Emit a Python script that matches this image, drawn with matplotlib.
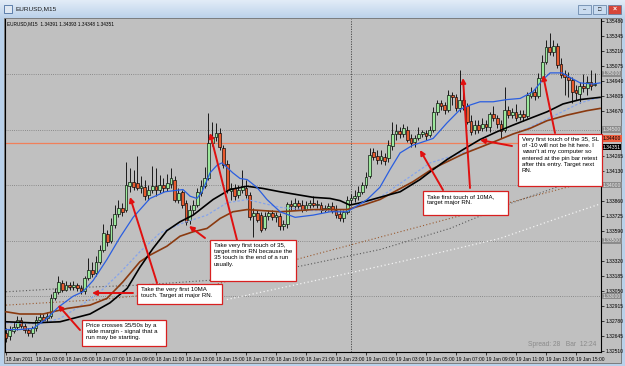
import numpy as np
import matplotlib.pyplot as plt
from matplotlib.patches import Rectangle
from matplotlib.colors import LinearSegmentedColormap

plt.rcParams['font.family'] = ['Liberation Sans', 'DejaVu Sans']

# EURUSD M15, one bar per 15 min starting 18 Jan 2011 01:00
opens = [1.3267, 1.3264, 1.3269, 1.3272, 1.3279, 1.3273, 1.3270, 1.3267, 1.3271, 1.3279,
         1.3281, 1.3280, 1.3282, 1.3298, 1.3304, 1.3312, 1.3306, 1.3310, 1.3308, 1.3310,
         1.3307, 1.3305, 1.3316, 1.3324, 1.3321, 1.3331, 1.3342, 1.3356, 1.3350, 1.3364,
         1.3374, 1.3379, 1.3378, 1.3399, 1.3403, 1.3402, 1.3397, 1.3398, 1.3391, 1.3396,
         1.3399, 1.3396, 1.3400, 1.3397, 1.3401, 1.3405, 1.3387, 1.3394, 1.3384, 1.3369,
         1.3378, 1.3382, 1.3393, 1.3399, 1.3406, 1.3438, 1.3443, 1.3447, 1.3433, 1.3419,
         1.3395, 1.3397, 1.3391, 1.3396, 1.3397, 1.3391, 1.3372, 1.3375, 1.3373, 1.3361,
         1.3372, 1.3375, 1.3371, 1.3372, 1.3363, 1.3365, 1.3383, 1.3381, 1.3384, 1.3382,
         1.3378, 1.3382, 1.3384, 1.3382, 1.3382, 1.3378, 1.3379, 1.3381, 1.3378, 1.3374,
         1.3370, 1.3376, 1.3387, 1.3388, 1.3390, 1.3394, 1.3400, 1.3408, 1.3430, 1.3426,
         1.3423, 1.3425, 1.3424, 1.3435, 1.3446, 1.3449, 1.3446, 1.3450, 1.3442, 1.3439,
         1.3442, 1.3446, 1.3447, 1.3445, 1.3450, 1.3466, 1.3474, 1.3472, 1.3468, 1.3481,
         1.3479, 1.3469, 1.3477, 1.3471, 1.3458, 1.3450, 1.3454, 1.3451, 1.3455, 1.3452,
         1.3464, 1.3460, 1.3455, 1.3450, 1.3468, 1.3463, 1.3466, 1.3461, 1.3464, 1.3462,
         1.3480, 1.3484, 1.3480, 1.3496, 1.3511, 1.3524, 1.3520, 1.3525, 1.3509, 1.3500,
         1.3497, 1.3495, 1.3486, 1.3482, 1.3489, 1.3487, 1.3493, 1.3490]
highs = [1.3271, 1.3273, 1.3277, 1.3282, 1.3281, 1.3277, 1.3271, 1.3273, 1.3282, 1.3285,
         1.3284, 1.3286, 1.3302, 1.3307, 1.3318, 1.3315, 1.3314, 1.3313, 1.3314, 1.3312,
         1.3310, 1.3318, 1.3334, 1.3331, 1.3336, 1.3346, 1.3365, 1.3360, 1.3370, 1.3382,
         1.3387, 1.3384, 1.3421, 1.3415, 1.3414, 1.3426, 1.3408, 1.3405, 1.3400, 1.3417,
         1.3415, 1.3409, 1.3406, 1.3410, 1.3415, 1.3408, 1.3397, 1.3396, 1.3387, 1.3382,
         1.3387, 1.3397, 1.3405, 1.3416, 1.3465, 1.3457, 1.3456, 1.3451, 1.3436, 1.3423,
         1.3402, 1.3401, 1.3400, 1.3414, 1.3405, 1.3394, 1.3379, 1.3378, 1.3376, 1.3376,
         1.3378, 1.3378, 1.3376, 1.3375, 1.3369, 1.3385, 1.3387, 1.3388, 1.3387, 1.3387,
         1.3386, 1.3387, 1.3390, 1.3387, 1.3385, 1.3382, 1.3384, 1.3385, 1.3382, 1.3378,
         1.3378, 1.3390, 1.3392, 1.3396, 1.3399, 1.3403, 1.3412, 1.3433, 1.3433, 1.3432,
         1.3432, 1.3429, 1.3441, 1.3457, 1.3455, 1.3452, 1.3455, 1.3453, 1.3446, 1.3445,
         1.3452, 1.3450, 1.3450, 1.3453, 1.3470, 1.3477, 1.3477, 1.3475, 1.3486, 1.3484,
         1.3482, 1.3504, 1.3487, 1.3474, 1.3463, 1.3459, 1.3459, 1.3460, 1.3459, 1.3466,
         1.3471, 1.3463, 1.3459, 1.3488, 1.3471, 1.3469, 1.3473, 1.3468, 1.3468, 1.3484,
         1.3488, 1.3487, 1.3501, 1.3517, 1.3531, 1.3537, 1.3531, 1.3528, 1.3514, 1.3504,
         1.3502, 1.3497, 1.3490, 1.3493, 1.3500, 1.3498, 1.3504, 1.3501]
lows = [1.3259, 1.3261, 1.3267, 1.3270, 1.3271, 1.3267, 1.3264, 1.3263, 1.3269, 1.3277,
        1.3278, 1.3277, 1.3280, 1.3297, 1.3302, 1.3304, 1.3305, 1.3306, 1.3306, 1.3305,
        1.3302, 1.3302, 1.3315, 1.3317, 1.3318, 1.3329, 1.3340, 1.3345, 1.3348, 1.3361,
        1.3371, 1.3372, 1.3376, 1.3394, 1.3396, 1.3396, 1.3393, 1.3387, 1.3387, 1.3393,
        1.3390, 1.3393, 1.3394, 1.3395, 1.3397, 1.3385, 1.3384, 1.3379, 1.3364, 1.3365,
        1.3374, 1.3380, 1.3390, 1.3397, 1.3405, 1.3435, 1.3440, 1.3432, 1.3415, 1.3393,
        1.3387, 1.3387, 1.3388, 1.3393, 1.3388, 1.3369, 1.3353, 1.3367, 1.3358, 1.3360,
        1.3369, 1.3369, 1.3367, 1.3360, 1.3360, 1.3361, 1.3378, 1.3378, 1.3378, 1.3376,
        1.3377, 1.3379, 1.3380, 1.3379, 1.3375, 1.3376, 1.3377, 1.3375, 1.3370, 1.3368,
        1.3367, 1.3374, 1.3383, 1.3385, 1.3387, 1.3392, 1.3397, 1.3406, 1.3423, 1.3419,
        1.3419, 1.3418, 1.3421, 1.3432, 1.3441, 1.3442, 1.3443, 1.3439, 1.3434, 1.3434,
        1.3441, 1.3443, 1.3441, 1.3443, 1.3448, 1.3463, 1.3468, 1.3464, 1.3466, 1.3472,
        1.3467, 1.3466, 1.3468, 1.3455, 1.3445, 1.3446, 1.3447, 1.3449, 1.3449, 1.3448,
        1.3458, 1.3451, 1.3442, 1.3448, 1.3460, 1.3460, 1.3458, 1.3459, 1.3458, 1.3460,
        1.3478, 1.3477, 1.3478, 1.3495, 1.3509, 1.3517, 1.3516, 1.3505, 1.3496, 1.3481,
        1.3479, 1.3474, 1.3477, 1.3474, 1.3484, 1.3481, 1.3486, 1.3489]
closes = [1.3262, 1.3270, 1.3272, 1.3279, 1.3273, 1.3270, 1.3267, 1.3271, 1.3279, 1.3281,
          1.3279, 1.3282, 1.3298, 1.3304, 1.3313, 1.3306, 1.3310, 1.3308, 1.3310, 1.3307,
          1.3305, 1.3316, 1.3324, 1.3320, 1.3331, 1.3342, 1.3357, 1.3349, 1.3364, 1.3374,
          1.3379, 1.3376, 1.3400, 1.3403, 1.3398, 1.3397, 1.3399, 1.3390, 1.3396, 1.3399,
          1.3396, 1.3400, 1.3397, 1.3402, 1.3406, 1.3387, 1.3393, 1.3382, 1.3367, 1.3378,
          1.3382, 1.3394, 1.3399, 1.3406, 1.3438, 1.3443, 1.3447, 1.3434, 1.3418, 1.3396,
          1.3397, 1.3390, 1.3396, 1.3399, 1.3391, 1.3371, 1.3375, 1.3369, 1.3360, 1.3372,
          1.3375, 1.3371, 1.3373, 1.3363, 1.3365, 1.3383, 1.3381, 1.3384, 1.3381, 1.3378,
          1.3382, 1.3384, 1.3382, 1.3383, 1.3378, 1.3379, 1.3381, 1.3377, 1.3373, 1.3370,
          1.3376, 1.3387, 1.3388, 1.3390, 1.3394, 1.3400, 1.3407, 1.3427, 1.3425, 1.3423,
          1.3426, 1.3422, 1.3436, 1.3446, 1.3449, 1.3446, 1.3451, 1.3441, 1.3438, 1.3442,
          1.3446, 1.3448, 1.3444, 1.3450, 1.3466, 1.3474, 1.3471, 1.3468, 1.3481, 1.3479,
          1.3469, 1.3477, 1.3472, 1.3457, 1.3448, 1.3454, 1.3450, 1.3455, 1.3452, 1.3464,
          1.3460, 1.3455, 1.3449, 1.3468, 1.3463, 1.3466, 1.3460, 1.3464, 1.3461, 1.3481,
          1.3484, 1.3480, 1.3496, 1.3511, 1.3524, 1.3520, 1.3525, 1.3508, 1.3499, 1.3497,
          1.3495, 1.3484, 1.3483, 1.3489, 1.3487, 1.3493, 1.3489, 1.3491]

# moving averages (bar position, price)
ma10_x = [0, 3.7, 7.2, 10.9, 13.9, 17.9, 20.5, 23.2, 26.9, 30.4, 33.9, 38.4, 42.4, 47.2, 49.1,
          50.9, 52.3, 54.4, 56.3, 57.6, 58.9, 60.5, 62.4, 64.3, 66.9, 69.6, 73.1, 77.1, 81.9,
          86.4, 90.9, 92.5, 96.3, 99.7, 102.4, 105.1, 108.5, 110.4, 113.9, 117.6, 121.1,
          123.7, 126.4, 129.9, 133.6, 137.1, 140.5, 143.2, 145.1, 148.3, 150.9, 153.1, 156.5, 158.4]
ma10_y = [1.3270, 1.3270, 1.3271, 1.3280, 1.3290, 1.3300, 1.3304, 1.3314, 1.3333, 1.3353,
          1.3371, 1.3388, 1.3394, 1.3396, 1.3390, 1.3388, 1.3394, 1.3411, 1.3418, 1.3420,
          1.3416, 1.3411, 1.3406, 1.3405, 1.3398, 1.3387, 1.3376, 1.3371, 1.3373, 1.3376,
          1.3376, 1.3379, 1.3387, 1.3398, 1.3414, 1.3429, 1.3436, 1.3438, 1.3442, 1.3456,
          1.3468, 1.3472, 1.3475, 1.3475, 1.3477, 1.3478, 1.3484, 1.3495, 1.3501, 1.3501,
          1.3496, 1.3492, 1.3491, 1.3492]
ma35_x = [0, 7.2, 14.4, 22.4, 27.7, 32.3, 35.7, 39.2, 42.9, 46.4, 49.9, 55.2, 59.7, 64.3, 68.5,
          73.1, 81.9, 86.4, 89.1, 91.7, 94.4, 99.7, 105.1, 110.4, 113.9, 117.6, 121.9, 126.4,
          130.9, 135.2, 139.7, 144.3, 148.5, 153.1, 158.4]
ma35_y = [1.3277, 1.3276, 1.3277, 1.3284, 1.3294, 1.3307, 1.3326, 1.3343, 1.3359, 1.3367,
          1.3373, 1.3387, 1.3396, 1.3399, 1.3397, 1.3394, 1.3389, 1.3388, 1.3386, 1.3382,
          1.3384, 1.3389, 1.3394, 1.3405, 1.3414, 1.3423, 1.3432, 1.3441, 1.3448, 1.3454,
          1.3460, 1.3466, 1.3473, 1.3477, 1.3479]
ma50_x = [0, 3.7, 9.9, 16.3, 22.4, 26.9, 31.2, 35.7, 38.4, 42.9, 46.4, 49.9, 53.6, 57.1, 60.5,
          64.3, 73.1, 81.9, 90.9, 95.2, 99.7, 108.5, 113.9, 121.9, 126.4, 130.9, 135.2, 139.7,
          144.3, 149.6, 154.9, 158.4]
ma50_y = [1.3286, 1.3284, 1.3284, 1.3289, 1.3292, 1.3298, 1.3313, 1.3331, 1.3337, 1.3345,
          1.3354, 1.3358, 1.3361, 1.3370, 1.3376, 1.3378, 1.3376, 1.3378, 1.3378, 1.3382,
          1.3387, 1.3403, 1.3415, 1.3428, 1.3434, 1.3440, 1.3446, 1.3451, 1.3458, 1.3463,
          1.3467, 1.3469]
ma20_x = [0, 9.1, 14.4, 19.7, 25.1, 30.4, 35.7, 41.1, 47.2, 53.6, 58.9, 64.3, 73.1, 81.9, 90.9,
          99.7, 113.1, 126.4, 139.7, 147.7, 153.1, 158.4]
ma20_y = [1.3276, 1.3275, 1.3280, 1.3291, 1.3304, 1.3321, 1.3340, 1.3357, 1.3366, 1.3373,
          1.3384, 1.3387, 1.3380, 1.3377, 1.3378, 1.3389, 1.3420, 1.3434, 1.3452, 1.3465,
          1.3474, 1.3479]
ma100_x = [0, 20.5, 35.7, 57.1, 78.4, 99.7, 118.4, 134.9, 145.9, 158.4]
ma100_y = [1.3304, 1.3308, 1.3310, 1.3315, 1.3327, 1.3342, 1.3361, 1.3384, 1.3397, 1.3412]
ma150_x = [0, 25.1, 51.7, 78.4, 105.1, 131.7, 158.4]
ma150_y = [1.3292, 1.3297, 1.3306, 1.3334, 1.3358, 1.3382, 1.3406]
ma200_x = [58.9, 83.7, 105.1, 131.7, 149.6, 158.4]
ma200_y = [1.3297, 1.3315, 1.3331, 1.3352, 1.3373, 1.3383]

price_ticks = [1.35480, 1.35345, 1.35210, 1.35075, 1.34940, 1.34805, 1.34670, 1.34265,
               1.34130, 1.33860, 1.33725, 1.33590, 1.33320, 1.33185, 1.33050, 1.32915,
               1.32780, 1.32645, 1.32510]
round_levels = [1.35000, 1.34500, 1.34000, 1.33500, 1.33000]
hline_level = 1.34375
bid = 1.34351

time_pos = [0, 8, 16, 24, 32, 40, 48, 56, 64, 72, 80, 88, 96, 104, 112, 120, 128, 136, 144, 152]
time_labels = ['18 Jan 2011', '18 Jan 03:00', '18 Jan 05:00', '18 Jan 07:00', '18 Jan 09:00',
               '18 Jan 11:00', '18 Jan 13:00', '18 Jan 15:00', '18 Jan 17:00', '18 Jan 19:00',
               '18 Jan 21:00', '18 Jan 23:00', '19 Jan 01:00', '19 Jan 03:00', '19 Jan 05:00',
               '19 Jan 07:00', '19 Jan 09:00', '19 Jan 11:00', '19 Jan 13:00', '19 Jan 15:00']
day_break = 92

notes = [
    'Price crosses 35/50s by a\nwide margin - signal that a\nrun may be starting.',
    'Take the very first 10MA\ntouch. Target at major RN.',
    'Take very first touch of 35,\ntarget minor RN because the\n35 touch is the end of a run\nusually.',
    'Take first touch of 10MA,\ntarget major RN.',
    'Very first touch of the 35, SL\nof -10 will not be hit here. I\nwasn\'t at my computer so\nentered at the pin bar retest\nafter this entry. Target next\nRN.',
]

W, H = 625, 366
fig = plt.figure(figsize=(W / 100, H / 100), dpi=100)
fig.patch.set_facecolor('#b9d1ea')


def fpx(x, y):
    return x / W, 1 - y / H


def d(x, y):
    # screen pixel -> chart coordinates (bar, price)
    return (x - 6) / 3.75, 1.35666 - 0.00009 * y


# title bar
tb = fig.add_axes([0, 1 - 18 / H, 1, 18 / H])
tb.imshow(np.linspace(0, 1, 30).reshape(-1, 1), aspect='auto', extent=[0, 1, 0, 1],
          cmap=LinearSegmentedColormap.from_list('tb', ['#e2ecf7', '#bcd2ea']))
tb.axis('off')
fig.add_artist(Rectangle(fpx(4, 13), 8 / W, 8 / H, transform=fig.transFigure,
                         facecolor='#dfe8f2', edgecolor='#4a6fa0', lw=0.6))
fig.text(*fpx(16, 9), 'EURUSD,M15', fontsize=4.6, va='center', color='#1a1a1a')
for bx, fc in [(578, '#c9dbef'), (593, '#c9dbef'), (608, '#d6463a')]:
    fig.add_artist(Rectangle(fpx(bx, 14), 13 / W, 9 / H, transform=fig.transFigure,
                             facecolor=fc, edgecolor='#5a7aa0', lw=0.5))
fig.text(*fpx(584.5, 9.5), '–', fontsize=4, ha='center', va='center')
fig.text(*fpx(599.5, 9.5), '□', fontsize=4, ha='center', va='center')
fig.text(*fpx(614.5, 9.5), '×', fontsize=5, ha='center', va='center', color='white',
         fontweight='bold')

# chart panel
fig.add_artist(Rectangle(fpx(4, 363), 617 / W, 345 / H, transform=fig.transFigure,
                         facecolor='#c0c0c0', edgecolor='#707070', lw=0.6, zorder=0))

ax = fig.add_axes([5 / W, 1 - 352 / H, 596 / W, 333 / H])
ax.set_facecolor('#c0c0c0')
x0, y_top = d(5, 19)
x1, y_bot = d(601, 352)
ax.set_xlim(x0, x1)
ax.set_ylim(y_bot, y_top)
for s in ['left', 'bottom', 'right']:
    ax.spines[s].set_color('black')
    ax.spines[s].set_linewidth(0.8)
ax.spines['top'].set_visible(False)

# round-number levels, separators
for lv in round_levels:
    ax.axhline(lv, color='#7a7a7a', lw=0.6, ls=(0, (1, 1.6)), zorder=1)
ax.axhline(hline_level, color='#f0805a', lw=0.9, zorder=1)
ax.axvline(day_break, color='#404040', lw=0.6, ls=(0, (1.5, 1.5)), zorder=1)

# long averages
ax.plot(ma100_x, ma100_y, color='#5a5a5a', lw=0.8, ls=(0, (1, 2)), zorder=2)
ax.plot(ma150_x, ma150_y, color='#9a5a30', lw=0.8, ls=(0, (1, 2)), zorder=2)
ax.plot(ma200_x, ma200_y, color='#f4f4f4', lw=0.9, ls=(0, (1, 2)), zorder=2)

# candles
o, h, l, c = map(np.array, (opens, highs, lows, closes))
idx = np.arange(len(o))
up = c >= o
ax.vlines(idx, l, h, color='black', lw=0.6, zorder=3)
ax.bar(idx[up], np.maximum(c[up] - o[up], 0.00002), bottom=o[up], width=0.7,
       color='#9be89b', edgecolor='black', lw=0.45, zorder=4)
ax.bar(idx[~up], o[~up] - c[~up], bottom=c[~up], width=0.7,
       color='#e85a2e', edgecolor='black', lw=0.45, zorder=4)

# moving averages
ax.plot(ma20_x, ma20_y, color='#86a4ec', lw=0.9, ls=(0, (2, 1.5)), zorder=5)
ax.plot(ma50_x, ma50_y, color='#8a3a10', lw=1.2, zorder=5)
ax.plot(ma35_x, ma35_y, color='black', lw=1.2, zorder=5)
ax.plot(ma10_x, ma10_y, color='#2a5ee0', lw=0.9, zorder=5)

# axes ticks
ax.yaxis.tick_right()
ax.set_yticks(price_ticks)
ax.set_yticklabels(['%.5f' % p for p in price_ticks])
ax.tick_params(axis='y', labelsize=3.6, length=2, width=0.5, pad=1, colors='black')
ax.set_xticks(time_pos)
ax.set_xticklabels(time_labels)
ax.tick_params(axis='x', labelsize=3.5, length=2, width=0.5, pad=1.5)
for t in ax.get_xticklabels():
    t.set_ha('left')

# price axis boxes
ytr = ax.get_yaxis_transform()
for lv in round_levels:
    ax.text(1.003, lv, '%.5f' % lv, transform=ytr, fontsize=3.6, va='center', ha='left',
            color='#e8e8e8', clip_on=False,
            bbox=dict(boxstyle='square,pad=0.12', fc='#8c8c8c', ec='none'))
ax.text(1.003, 1.34420, '%.5f' % 1.34400, transform=ytr, fontsize=3.6,
        va='center', ha='left', color='black', clip_on=False,
        bbox=dict(boxstyle='square,pad=0.12', fc='#f06040', ec='none'))
ax.text(1.003, 1.34340, '%.5f' % bid, transform=ytr, fontsize=3.6, va='center',
        ha='left', color='white', clip_on=False,
        bbox=dict(boxstyle='square,pad=0.12', fc='black', ec='none'))

ax.text(0.004, 0.994, 'EURUSD,M15  1.34391 1.34393 1.34348 1.34351', transform=ax.transAxes,
        fontsize=3.4, va='top', ha='left', color='black')
ax.text(0.993, 0.012, 'Spread: 28   Bar  12:24', transform=ax.transAxes, fontsize=4.8,
        va='bottom', ha='right', color='#8a8a8a')

# annotations
boxes = [(82, 320, 166, 346), (137, 284, 222, 304), (210, 240, 296, 281),
         (423, 191, 508, 215), (518, 134, 602, 186)]
for (bx0, by0, bx1, by1), txt in zip(boxes, notes):
    ax0, ay1 = d(bx0, by1)
    ax1, ay0 = d(bx1, by0)
    ax.add_patch(Rectangle((ax0, ay1), ax1 - ax0, ay0 - ay1, facecolor='white',
                           edgecolor='#d82020', lw=0.9, zorder=7, clip_on=False))
    ax.text(*d(bx0 + 4, by0 + 3), txt, fontsize=4.4, va='top', ha='left', zorder=8,
            linespacing=1.3, color='black')

arrows = [((80, 330), (58, 305)), ((133, 293), (92, 293)), ((157, 283), (130, 197)),
          ((205, 238), (189, 226)), ((237, 240), (210, 133)), ((443, 190), (420, 150)),
          ((470, 188), (463, 78)), ((555, 133), (543, 75)), ((512, 146), (480, 140))]
for (tx, ty), (hx, hy) in arrows:
    ax.annotate('', xy=d(hx, hy), xytext=d(tx, ty), zorder=6,
                arrowprops=dict(arrowstyle='-|>', color='#e01010', lw=1.4,
                                mutation_scale=7, shrinkA=0, shrinkB=0))

fig.savefig('out.png', dpi=100, facecolor=fig.get_facecolor())
